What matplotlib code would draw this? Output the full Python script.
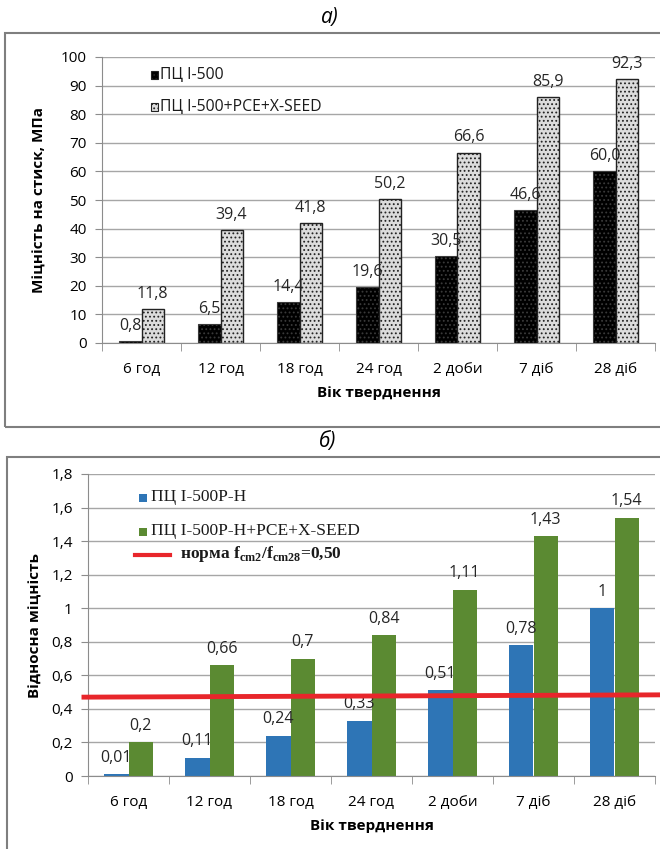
import matplotlib
matplotlib.use("Agg")
import matplotlib.pyplot as plt
import numpy as np
from matplotlib.patches import Rectangle
from matplotlib.lines import Line2D

categories = ["6 год", "12 год", "18 год", "24 год", "2 доби", "7 діб", "28 діб"]
a_base = [0.8, 6.5, 14.4, 19.6, 30.5, 46.6, 60.0]
a_mod = [11.8, 39.4, 41.8, 50.2, 66.6, 85.9, 92.3]
a_base_lbl = ["0,8", "6,5", "14,4", "19,6", "30,5", "46,6", "60,0"]
a_mod_lbl = ["11,8", "39,4", "41,8", "50,2", "66,6", "85,9", "92,3"]
a_yticks = [0, 10, 20, 30, 40, 50, 60, 70, 80, 90, 100]
a_series = ["ПЦ І-500", "ПЦ І-500+PCE+X-SEED"]

b_base = [0.01, 0.11, 0.24, 0.33, 0.51, 0.78, 1.0]
b_mod = [0.2, 0.66, 0.7, 0.84, 1.11, 1.43, 1.54]
b_base_lbl = ["0,01", "0,11", "0,24", "0,33", "0,51", "0,78", "1"]
b_mod_lbl = ["0,2", "0,66", "0,7", "0,84", "1,11", "1,43", "1,54"]
b_yticks = [0, 0.2, 0.4, 0.6, 0.8, 1.0, 1.2, 1.4, 1.6, 1.8]
b_yticklbl = ["0", "0,2", "0,4", "0,6", "0,8", "1", "1,2", "1,4", "1,6", "1,8"]
b_series = ["ПЦ І-500Р-Н", "ПЦ І-500Р-Н+PCE+X-SEED"]
norm_label = "норма f$_{\\mathregular{cm2}}$/f$_{\\mathregular{cm28}}$=0,50"
norm_y = [0.47, 0.485]

SANS = ["Open Sans", "DejaVu Sans"]
SERIF = ["Liberation Serif", "DejaVu Serif"]
plt.rcParams["font.family"] = SANS
plt.rcParams["hatch.linewidth"] = 0.8

fig = plt.figure(figsize=(6.6, 8.49), dpi=100)
W, H = 660, 849

def fx(px):
    return px / W

def fy(py):
    return 1 - py / H

# panel frames
fig.patches.append(Rectangle((fx(5), fy(427)), fx(660), fy(33) - fy(427), transform=fig.transFigure,
                             fill=False, edgecolor="#7f7f7f", linewidth=1.5))
fig.patches.append(Rectangle((fx(7), fy(851)), fx(660), fy(457) - fy(851), transform=fig.transFigure,
                             fill=False, edgecolor="#7f7f7f", linewidth=1.5))
fig.text(fx(330), fy(17), "а)", ha="center", va="center", fontsize=15, style="italic", family=SANS)
fig.text(fx(328), fy(441), "б)", ha="center", va="center", fontsize=15, style="italic", family=SANS)

x = np.arange(len(categories))

def style_axes(ax, ylim, yticks, yticklbl):
    ax.set_xlim(-0.5, len(categories) - 0.5)
    ax.set_ylim(*ylim)
    ax.set_yticks(yticks)
    ax.set_yticklabels(yticklbl, fontsize=11)
    ax.set_xticks(x)
    ax.set_xticklabels(categories, fontsize=11)
    ax.set_xticks(np.arange(len(categories) + 1) - 0.5, minor=True)
    ax.tick_params(axis="x", which="major", length=0, pad=14)
    ax.tick_params(axis="x", which="minor", length=6, color="#8c8c8c")
    ax.tick_params(axis="y", length=5, color="#8c8c8c", pad=6)
    for s in ["top", "right"]:
        ax.spines[s].set_visible(False)
    ax.spines["left"].set_color("#8c8c8c")
    ax.spines["bottom"].set_color("#8c8c8c")
    ax.grid(axis="y", color="#a6a6a6", linewidth=1.0)
    ax.set_axisbelow(True)

# Panel a
ax1 = fig.add_axes([fx(102), fy(343), fx(655) - fx(102), fy(57) - fy(343)])
w1 = 0.28
ax1.bar(x - w1 / 2, a_base, w1, color="black", edgecolor="#3a3a3a", hatch="....", linewidth=0.8)
ax1.bar(x + w1 / 2, a_mod, w1, color="#dcdcdc", edgecolor="#222222", hatch="....", linewidth=1.0)
for xi, v, l in zip(x, a_base, a_base_lbl):
    ax1.text(xi - w1 / 2, v + 2.5, l, ha="center", va="bottom", fontsize=11.5, color="#262626")
for xi, v, l in zip(x, a_mod, a_mod_lbl):
    ax1.text(xi + w1 / 2, v + 2.5, l, ha="center", va="bottom", fontsize=11.5, color="#262626")
style_axes(ax1, (0, 100), a_yticks, [str(t) for t in a_yticks])
ax1.set_ylabel("Міцність на стиск, МПа", fontsize=11, fontweight="bold", labelpad=10)
ax1.set_xlabel("Вік тверднення", fontsize=11, fontweight="bold", labelpad=6)

# manual legend panel a
for (ypx, fc), lbl in zip([(75, "black"), (107, "#dcdcdc")], a_series):
    fig.patches.append(Rectangle((fx(151), fy(ypx + 4)), fx(7), fy(ypx - 4) - fy(ypx + 4),
                                 transform=fig.transFigure, facecolor=fc, edgecolor="#222222",
                                 hatch="....", linewidth=0.8))
    fig.text(fx(160), fy(ypx), lbl, ha="left", va="center", fontsize=11.3, family=SANS, color="#1a1a1a")

# Panel b
ax2 = fig.add_axes([fx(88), fy(776), fx(655) - fx(88), fy(474) - fy(776)])
w2 = 0.3
ax2.bar(x - w2 / 2, b_base, w2, color="#2e75b6")
ax2.bar(x + w2 / 2, b_mod, w2, color="#5b8a32")
for xi, v, l in zip(x, b_base, b_base_lbl):
    ax2.text(xi - w2 / 2, v + 0.05, l, ha="center", va="bottom", fontsize=11.5, color="#262626")
for xi, v, l in zip(x, b_mod, b_mod_lbl):
    ax2.text(xi + w2 / 2, v + 0.05, l, ha="center", va="bottom", fontsize=11.5, color="#262626")
ax2.plot([-0.55, 7.25], norm_y, color="#e8262b", linewidth=3.5, clip_on=False, zorder=5)
style_axes(ax2, (0, 1.8), b_yticks, b_yticklbl)
ax2.set_ylabel("Відносна міцність", fontsize=11, fontweight="bold", labelpad=6)
ax2.set_xlabel("Вік тверднення", fontsize=11, fontweight="bold", labelpad=6)

# manual legend panel b
for (ypx, fc), lbl in zip([(498, "#2e75b6"), (532, "#5b8a32")], b_series):
    fig.patches.append(Rectangle((fx(139), fy(ypx + 4)), fx(8), fy(ypx - 4) - fy(ypx + 4),
                                 transform=fig.transFigure, facecolor=fc, edgecolor="none"))
    fig.text(fx(151), fy(ypx - 1), lbl, ha="left", va="center", fontsize=12.5, family=SERIF,
             color="#1a1a1a")
fig.lines.append(Line2D([fx(135), fx(170)], [fy(555), fy(555)], transform=fig.transFigure,
                        color="#e8262b", linewidth=3))
fig.text(fx(180), fy(554), norm_label, ha="left", va="center", fontsize=12.5, family=SERIF,
         fontweight="bold", color="#1a1a1a")

fig.savefig("out.png", dpi=100)
